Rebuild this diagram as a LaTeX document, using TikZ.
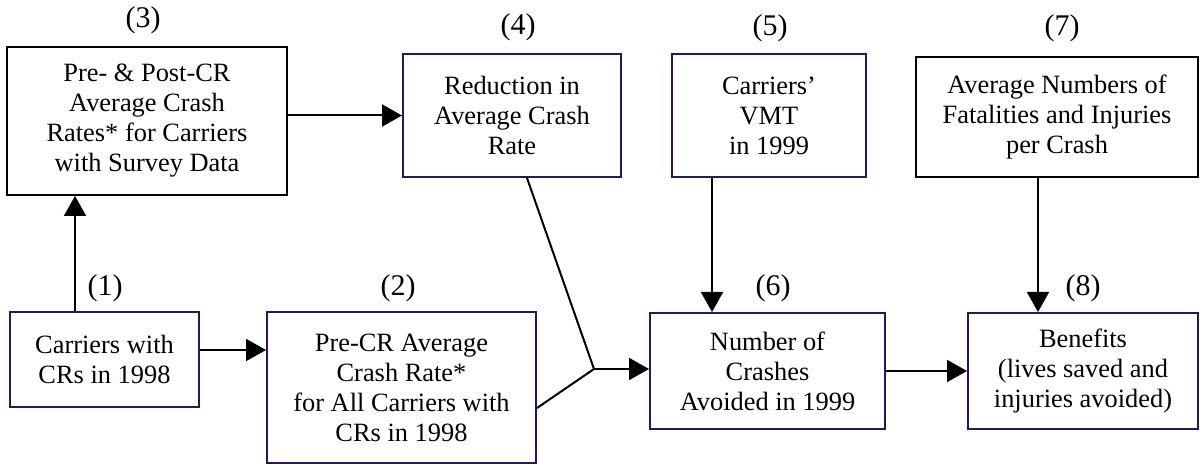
\documentclass[tikz,border=0pt]{standalone}
\usepackage{fontspec}
\setmainfont{Liberation Serif}
\usepackage{tikz}
\usetikzlibrary{arrows.meta}
\definecolor{boxline}{RGB}{48,20,88}

\begin{document}
\begin{tikzpicture}[x=0.5pt,y=-0.5pt,
  box/.style={draw=boxline,line width=1pt,rectangle,inner sep=0pt,
              align=center,font=\fontsize{13.2}{15}\selectfont},
  bbox/.style={box,draw=black},
  num/.style={inner sep=0pt,font=\fontsize{15}{17}\selectfont},
  arr/.style={line width=1pt,-{Triangle[length=10pt,width=11pt]}},
  lnk/.style={line width=1pt}]
\useasboundingbox (0,0) rectangle (1200,464);

% boxes
\node[box,minimum width=94.5pt,minimum height=47.5pt] (c1) at (104.5,359.5)
     {Carriers with\\CRs in 1998};
\node[box,minimum width=134.5pt,minimum height=75.5pt] (c2) at (401.5,387.5)
     {Pre-CR Average\\Crash Rate*\\for All Carriers with\\CRs in 1998};
\node[bbox,minimum width=140pt,minimum height=74pt] (c3) at (147,121)
     {Pre- \& Post-CR\\Average Crash\\Rates* for Carriers\\with Survey Data};
\node[box,minimum width=109pt,minimum height=61.5pt] (c4) at (512,115.5)
     {Reduction in\\Average Crash\\Rate};
\node[box,minimum width=97pt,minimum height=61.5pt] (c5) at (769,115.5)
     {Carriers’\\VMT\\in 1999};
\node[box,minimum width=117.5pt,minimum height=58pt] (c6) at (767.5,371)
     {Number of\\Crashes\\Avoided in 1999};
\node[bbox,minimum width=141pt,minimum height=60pt] (c7) at (1057,117)
     {Average Numbers of\\Fatalities and Injuries\\per Crash};
\node[box,minimum width=115pt,minimum height=58pt] (c8) at (1083,371)
     {Benefits\\(lives saved and\\injuries avoided)};

% numbers
\node[num] (n1) at (105,288) {(1)};
\node[num] (n2) at (398,288) {(2)};
\node[num] (n3) at (143,20) {(3)};
\node[num] (n4) at (518,27) {(4)};
\node[num] (n5) at (770,28) {(5)};
\node[num] (n6) at (773,288) {(6)};
\node[num] (n7) at (1062,28) {(7)};
\node[num] (n8) at (1083,288) {(8)};

% connectors
\coordinate (up1) at ([xshift=-14.75pt]c1.north);
\draw[arr] (up1) -- (up1 |- c3.south);
\draw[arr] (c3.east |- c4.west) -- (c4.west);
\coordinate (rt1) at ([yshift=4.75pt]c1.east);
\draw[arr] (rt1) -- (rt1 -| c2.west);
\coordinate (mrg) at (594,369);
\draw[lnk] ([xshift=7.5pt]c4.south) -- (mrg);
\draw[lnk] ([yshift=-10.25pt]c2.east) -- (mrg);
\draw[arr] (mrg) -- (mrg -| c6.west);
\coordinate (dn5) at ([xshift=-28.5pt]c5.south);
\draw[arr] (dn5) -- (dn5 |- c6.north);
\coordinate (dn7) at ([xshift=-9.5pt]c7.south);
\draw[arr] (dn7) -- (dn7 |- c8.north);
\draw[arr] (c6.east) -- (c6.east -| c8.west);
\end{tikzpicture}
\end{document}
